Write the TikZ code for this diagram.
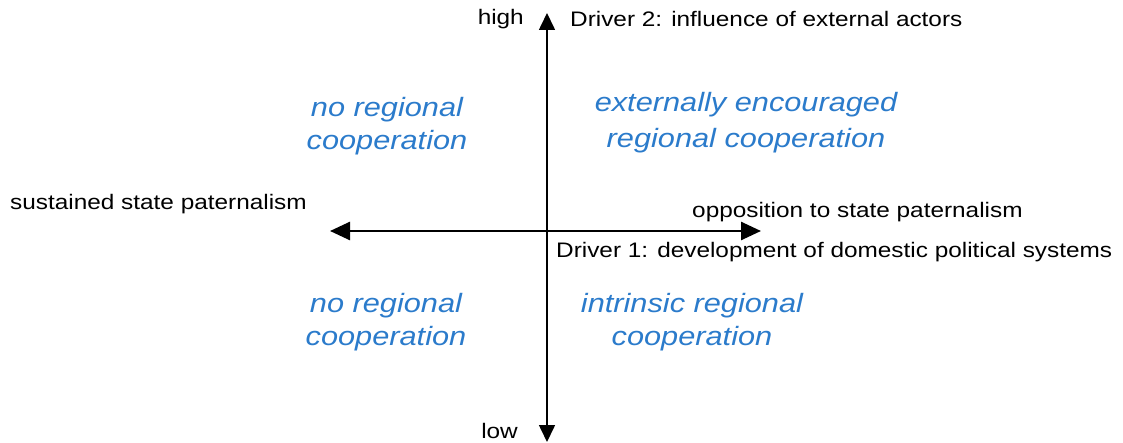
\documentclass[tikz,border=0pt]{standalone}
\usepackage{fontspec}
\setmainfont{Liberation Sans}[FakeStretch=1.16]
\usetikzlibrary{arrows.meta}
\definecolor{quadblue}{HTML}{2B7BCB}
\tikzset{
  lbl/.style={inner sep=0pt, font=\fontsize{21}{25}\selectfont, text=black},
  quad/.style={inner sep=0pt, align=center, text=quadblue,
    font=\fontsize{26.5}{#1}\selectfont\itshape},
  haxis/.style={line width=2.6pt, {Triangle[length=20pt,width=18pt]}-{Triangle[length=20pt,width=18pt]}},
  vaxis/.style={line width=1.6pt, {Triangle[length=17pt,width=16pt]}-{Triangle[length=17pt,width=16pt]}}
}
\begin{document}
\begin{tikzpicture}[x=1pt,y=-1pt]
\useasboundingbox (0,0) rectangle (1123,443);
\coordinate (L) at (330,231);
\coordinate (R) at (761,231);
\coordinate (T) at (547,13);
\coordinate (B) at (547,442);
\draw[haxis] (L) -- (R);
\draw[vaxis] (B) -- (T);
\node[lbl, anchor=base east] (high) at (524,25) {high};
\node[lbl, anchor=base east] (low) at (518,438) {low};
\node[lbl, anchor=base west] (d2) at (570,27) {Driver 2: influence of external actors};
\node[lbl, anchor=base west] (sust) at (10,210) {sustained state paternalism};
\node[lbl, anchor=base west] (opp) at (692,218) {opposition to state paternalism};
\node[lbl, anchor=base west] (d1) at (556,258) {Driver 1: development of domestic political systems};
\node[quad=33, anchor=base] (tl) at (387,150) {no regional\\cooperation};
\node[quad=36, anchor=base] (tr) at (746,148) {externally encouraged\\regional cooperation};
\node[quad=33, anchor=base] (bl) at (386,345) {no regional\\cooperation};
\node[quad=33, anchor=base] (br) at (692,345) {intrinsic regional\\cooperation};
\end{tikzpicture}
\end{document}
